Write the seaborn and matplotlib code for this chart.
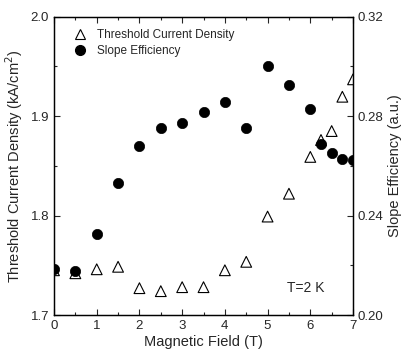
import numpy as np
import pandas as pd
import seaborn as sns
import matplotlib.pyplot as plt
from matplotlib.ticker import MultipleLocator
from matplotlib.lines import Line2D

# --- Data ---
field = [0, 0.5, 1, 1.5, 2, 2.5, 3, 3.5, 4, 4.5, 5, 5.5, 6, 6.25, 6.5, 6.75, 7]
threshold = [1.745, 1.742, 1.746, 1.7485, 1.727, 1.724, 1.728, 1.728, 1.745,
             1.7535, 1.799, 1.822, 1.859, 1.876, 1.885, 1.9195, 1.937]
slope_eff = [0.2185, 0.2177, 0.2325, 0.2532, 0.268, 0.2751, 0.2771, 0.2818, 0.2858,
             0.2751, 0.3003, 0.2925, 0.2829, 0.2687, 0.265, 0.2628, 0.2624]

df = pd.DataFrame({"B": field, "Jth": threshold, "SE": slope_eff})

sns.set_style("ticks")
plt.rcParams["font.family"] = ["Liberation Sans", "DejaVu Sans"]

fig = plt.figure(figsize=(4.03, 3.53), dpi=100)
ax = fig.add_axes([0.134, 0.1076, 0.742, 0.8451])
ax2 = ax.twinx()

sns.scatterplot(data=df, x="B", y="Jth", ax=ax, marker="^", s=60,
                facecolor="none", edgecolor="black", linewidth=0.8, zorder=3)
sns.scatterplot(data=df, x="B", y="SE", ax=ax2, marker="o", s=55,
                color="black", edgecolor="black", linewidth=0.5, zorder=3)

# --- Axes formatting ---
ax.set_xlim(0, 7)
ax.set_ylim(1.7, 2.0)
ax2.set_ylim(0.20, 0.32)
ax.xaxis.set_major_locator(MultipleLocator(1))
ax.xaxis.set_minor_locator(MultipleLocator(0.5))
ax.yaxis.set_major_locator(MultipleLocator(0.1))
ax.yaxis.set_minor_locator(MultipleLocator(0.05))
ax2.yaxis.set_major_locator(MultipleLocator(0.04))
ax2.yaxis.set_minor_locator(MultipleLocator(0.02))
ax.yaxis.set_major_formatter(plt.FormatStrFormatter("%.1f"))
ax2.yaxis.set_major_formatter(plt.FormatStrFormatter("%.2f"))

ax.tick_params(axis="x", which="both", direction="in", top=True, labelsize=9.5)
ax.tick_params(axis="y", which="both", direction="in", right=False, labelsize=9.5)
ax2.tick_params(axis="y", which="both", direction="in", labelsize=9.5)
for a in (ax, ax2):
    a.tick_params(which="major", length=4, width=0.8)
    a.tick_params(which="minor", length=2.5, width=0.8)
    for sp in a.spines.values():
        sp.set_visible(True)
        sp.set_linewidth(0.9)
        sp.set_color("black")

ax.set_xlabel("Magnetic Field (T)", fontsize=10.5, labelpad=2)
ax.set_ylabel("Threshold Current Density (kA/cm$^2$)", fontsize=10.5, labelpad=4)
ax2.set_ylabel("Slope Efficiency (a.u.)", fontsize=10.5, labelpad=3)

ax.text(5.45, 1.723, "T=2 K", fontsize=10)

handles = [
    Line2D([], [], marker="^", linestyle="none", markerfacecolor="none",
           markeredgecolor="black", markersize=7, markeredgewidth=0.8),
    Line2D([], [], marker="o", linestyle="none", color="black", markersize=7),
]
ax.legend(handles, ["Threshold Current Density", "Slope Efficiency"],
          loc="upper left", frameon=False, fontsize=8.5, handletextpad=0.4,
          borderaxespad=0.3, labelspacing=0.3, bbox_to_anchor=(0.02, 0.985))

fig.savefig("out.png", dpi=100)
